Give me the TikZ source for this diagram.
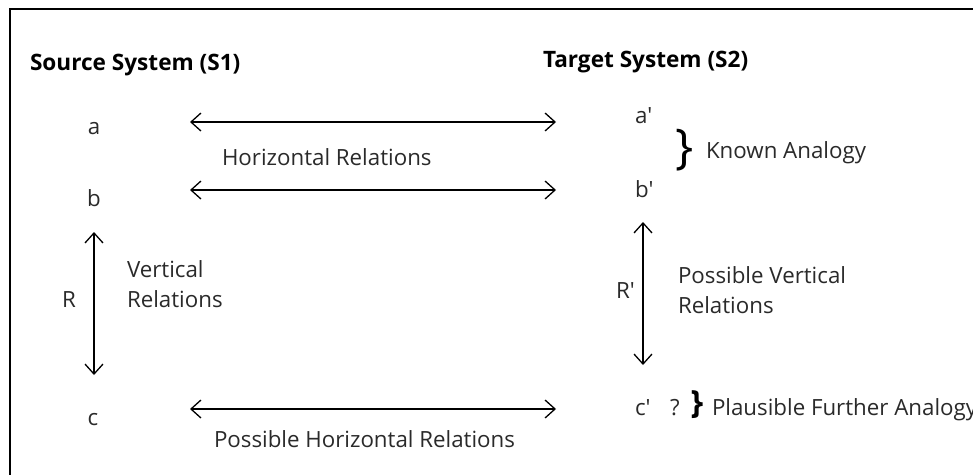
\documentclass[tikz,border=0pt]{standalone}
\usepackage{fontspec}
\setmainfont{Open Sans}
\usetikzlibrary{arrows.meta}
\definecolor{txt}{HTML}{2A2A2A}
\tikzset{
  lbl/.style={inner sep=0pt, outer sep=0pt, anchor=base west, text=txt, font=\fontsize{22.3}{28}\selectfont},
  ttl/.style={inner sep=0pt, outer sep=0pt, anchor=base west, text=black, font=\bfseries\fontsize{22.6}{28}\selectfont},
  rel/.style={line width=1.3pt, {Straight Barb[length=10pt,width=18pt]}-{Straight Barb[length=10pt,width=18pt]}},
  brc/.style={inner sep=0pt, outer sep=0pt, text=black}
}
\begin{document}
\begin{tikzpicture}[x=1pt,y=-1pt]
\useasboundingbox (0,0) rectangle (973,474);
\clip (0,0) rectangle (973,474);
\fill[white] (0,0) rectangle (973,474);
\draw[line width=2pt] (9.5,480) -- (9.5,8.5) -- (980,8.5);
% titles
\node[ttl] (s1) at (30,70) {Source System (S1)};
\node[ttl] (s2) at (543,67) {Target System (S2)};
% source items
\node[lbl, anchor=base] (a) at (94,134) {a};
\node[lbl, anchor=base] (b) at (94,206) {b};
\node[lbl, anchor=base] (c) at (93,425) {c};
% target items
\node[lbl] (a2) at (635,123) {a\textquotesingle};
\node[lbl] (b2) at (635,197) {b\textquotesingle};
\node[lbl] (c2) at (635,415) {c\textquotesingle};
\node[lbl] (q) at (670,415) {?};
% horizontal relations
\coordinate (ha1) at (190,122); \coordinate (ha2) at (556,122);
\coordinate (hb1) at (190,190); \coordinate (hb2) at (556,190);
\coordinate (hc1) at (190,409); \coordinate (hc2) at (556,409);
\draw[rel] (ha1) -- (ha2);
\draw[rel] (hb1) -- (hb2);
\draw[rel] (hc1) -- (hc2);
\node[lbl] (hr) at (222,165) {Horizontal Relations};
\node[lbl] (phr) at (214,447) {Possible Horizontal Relations};
% vertical relations
\coordinate (v1) at (94,232); \coordinate (v2) at (94,375);
\draw[rel] (v1) -- (v2);
\node[lbl] (R) at (62,307) {R};
\node[lbl] (vr1) at (127,277) {Vertical};
\node[lbl] (vr2) at (127,307) {Relations};
\coordinate (w1) at (643,222); \coordinate (w2) at (643,365);
\draw[rel] (w1) -- (w2);
\node[lbl] (R2) at (616,298) {R\textquotesingle};
\node[lbl] (pv1) at (678,283) {Possible Vertical};
\node[lbl] (pv2) at (678,313) {Relations};
% braces
\node[brc, font=\fontsize{48}{48}\selectfont] (br1) at (685,150) {\}};
\node[lbl] (ka) at (706,158) {Known Analogy};
\node[brc, font=\bfseries\fontsize{32}{32}\selectfont] (br2) at (697,405) {\}};
\node[lbl] (pfa) at (712,415) {Plausible Further Analogy};
\end{tikzpicture}
\end{document}
